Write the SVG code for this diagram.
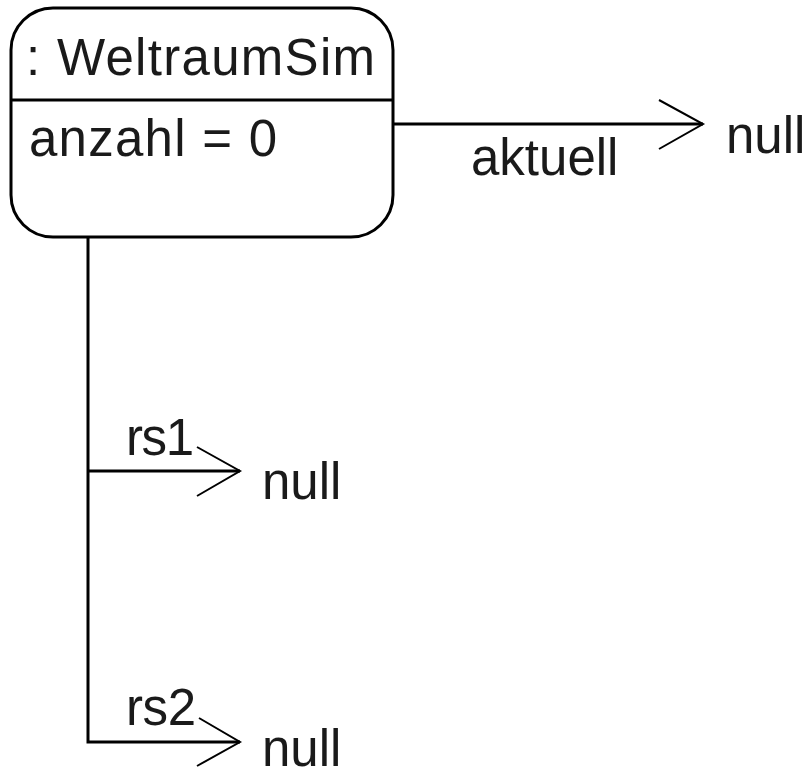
<svg xmlns="http://www.w3.org/2000/svg" width="812" height="773" viewBox="0 0 812 773">
<style>
.t{font-family:"Liberation Sans",Arial,sans-serif;font-size:51px;fill:#1a1a1a}
.box{fill:#fff;stroke:#000;stroke-width:3}
.ln{fill:none;stroke:#000;stroke-width:3}
.ah{fill:none;stroke:#000;stroke-width:2}
</style>
<rect width="812" height="773" fill="#fff"/>
<g id="weltraumSim">
<rect class="box" x="11" y="8" width="382" height="229" rx="42" ry="42"/>
<line class="ln" x1="11" y1="100" x2="393" y2="100"/>
<text class="t" x="26" y="75" textLength="349">: WeltraumSim</text>
<text class="t" x="29" y="156" textLength="248">anzahl = 0</text>
</g>
<g id="null1"><text class="t" x="726" y="153">null</text></g>
<g id="null2"><text class="t" x="262" y="499">null</text></g>
<g id="null3"><text class="t" x="262" y="766">null</text></g>
<g id="connectors">
<line class="ln" x1="393" y1="124" x2="703" y2="124"/>
<polyline class="ah" points="659,100 703,124 659,149"/>
<text class="t" x="471" y="175">aktuell</text>
<polyline class="ln" points="88,237 88,742 240,742"/>
<line class="ln" x1="88" y1="471" x2="240" y2="471"/>
<polyline class="ah" points="197,447 240,471 197,496"/>
<polyline class="ah" points="199,718 240,742 197,766"/>
<text class="t" x="126" y="455" textLength="68">rs1</text>
<text class="t" x="126" y="725" textLength="70">rs2</text>
</g>
</svg>
